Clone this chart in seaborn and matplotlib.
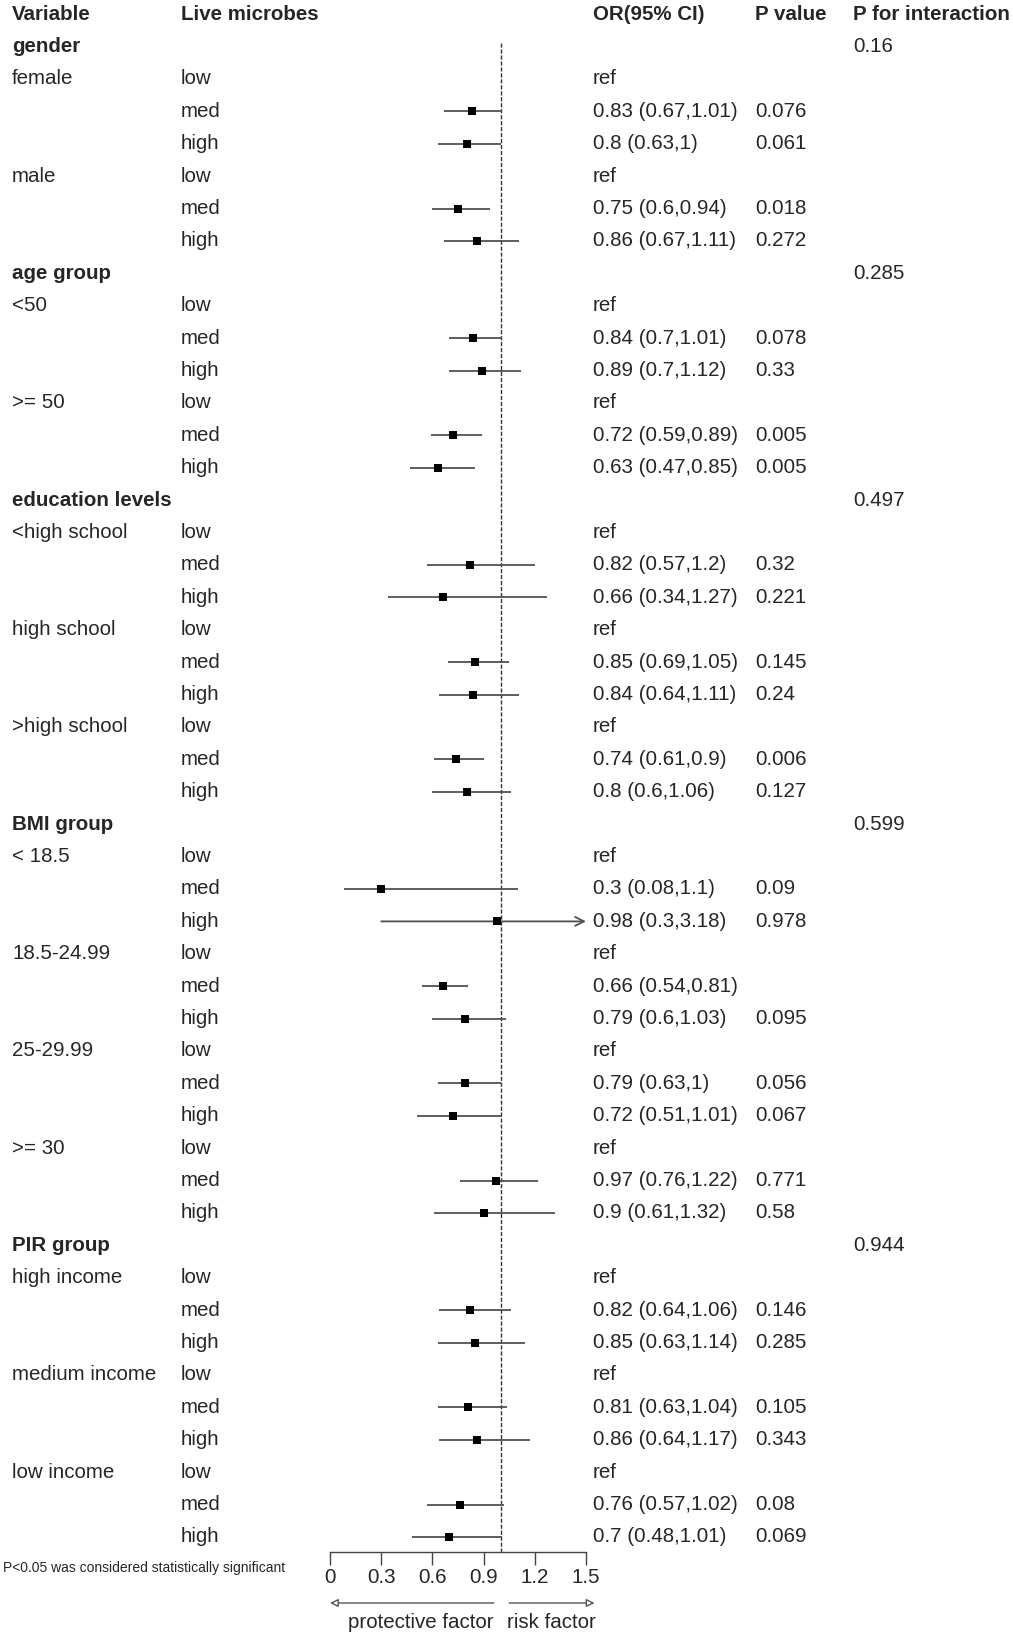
import matplotlib
matplotlib.use("Agg")
import matplotlib.pyplot as plt
import matplotlib.transforms as mtransforms
import numpy as np
import pandas as pd
import seaborn as sns

# table content
group_names = ["gender", "age group", "education levels", "BMI group", "PIR group"]
p_interaction = ["0.16", "0.285", "0.497", "0.599", "0.944"]
subgroups = [
    ["female", "male"],
    ["<50", ">= 50"],
    ["<high school", "high school", ">high school"],
    ["< 18.5", "18.5-24.99", "25-29.99", ">= 30"],
    ["high income", "medium income", "low income"],
]
levels = ["low", "med", "high"]

# med / high estimates, in row order
or_vals = [0.83, 0.8, 0.75, 0.86,
           0.84, 0.89, 0.72, 0.63,
           0.82, 0.66, 0.85, 0.84, 0.74, 0.8,
           0.3, 0.98, 0.66, 0.79, 0.79, 0.72, 0.97, 0.9,
           0.82, 0.85, 0.81, 0.86, 0.76, 0.7]
ci_low = [0.67, 0.63, 0.6, 0.67,
          0.7, 0.7, 0.59, 0.47,
          0.57, 0.34, 0.69, 0.64, 0.61, 0.6,
          0.08, 0.3, 0.54, 0.6, 0.63, 0.51, 0.76, 0.61,
          0.64, 0.63, 0.63, 0.64, 0.57, 0.48]
ci_high = [1.01, 1, 0.94, 1.11,
           1.01, 1.12, 0.89, 0.85,
           1.2, 1.27, 1.05, 1.11, 0.9, 1.06,
           1.1, 3.18, 0.81, 1.03, 1, 1.01, 1.22, 1.32,
           1.06, 1.14, 1.04, 1.17, 1.02, 1.01]
p_vals = ["0.076", "0.061", "0.018", "0.272",
          "0.078", "0.33", "0.005", "0.005",
          "0.32", "0.221", "0.145", "0.24", "0.006", "0.127",
          "0.09", "0.978", "", "0.095", "0.056", "0.067", "0.771", "0.58",
          "0.146", "0.285", "0.105", "0.343", "0.08", "0.069"]

x_ticks = [0, 0.3, 0.6, 0.9, 1.2, 1.5]

sns.set_style("white")
plt.rcParams["font.family"] = ["Liberation Sans", "DejaVu Sans"]
FS = 14.8

# build row table
rows = []
k = 0
r = 1
for g, pint, subs in zip(group_names, p_interaction, subgroups):
    rows.append(dict(row=r, kind="group", label=g, pint=pint))
    r += 1
    for s in subs:
        for j, lev in enumerate(levels):
            d = dict(row=r, kind="level", label=s if j == 0 else "", level=lev)
            if lev != "low":
                d.update(or_=or_vals[k], lo=ci_low[k], hi=ci_high[k], p=p_vals[k])
                k += 1
            rows.append(d)
            r += 1
df = pd.DataFrame(rows)
est = df.dropna(subset=["or_"]).copy()

fig = plt.figure(figsize=(10.13, 16.37), dpi=100)
W, H = 1013, 1637
ax_left, ax_right, ax_bottom = 330, 586, 1552
ax = fig.add_axes([ax_left / W, 1 - ax_bottom / H, (ax_right - ax_left) / W, ax_bottom / H])
xmax = 1.5
row0 = 14.2
row_h = 32.4
y_top = -row0 / row_h
y_bot = (ax_bottom - row0) / row_h
ax.set_xlim(0, xmax)
ax.set_ylim(y_bot, y_top)
ax.patch.set_alpha(0)


def px_row(py):
    return (py - row0) / row_h


# reference line
ax.vlines(1, 0.9, y_bot, colors="#333333", linestyles=(0, (3, 1.3)), lw=1, zorder=1)

# CIs
line_col = "#505050"
inside = est[est["hi"] <= xmax]
ax.hlines(inside["row"], inside["lo"], inside["hi"], colors=line_col, lw=1.3, zorder=2)
for _, e in est[est["hi"] > xmax].iterrows():
    ax.annotate("", xy=(xmax, e["row"]), xytext=(e["lo"], e["row"]),
                arrowprops=dict(arrowstyle="->", color=line_col, lw=1.3,
                                shrinkA=0, shrinkB=0, mutation_scale=16),
                annotation_clip=False)
sns.scatterplot(data=est, x="or_", y="row", marker="s", color="black",
                s=36, linewidth=0, ax=ax, zorder=3, legend=False)

# axis styling
for side in ["top", "left", "right"]:
    ax.spines[side].set_visible(False)
ax.spines["bottom"].set_color("#444444")
ax.spines["bottom"].set_linewidth(1)
ax.set_xticks(x_ticks)
ax.set_xticklabels([f"{t:g}" for t in x_ticks])
ax.set_yticks([])
ax.tick_params(axis="x", direction="out", length=9.5, width=1, color="#444444",
               labelsize=FS, pad=2, bottom=True)
ax.set_xlabel("")
ax.set_ylabel("")

# text columns
tr = mtransforms.blended_transform_factory(fig.transFigure, ax.transData)
col_var, col_lev, col_or, col_p, col_pi = 12 / W, 181 / W, 593 / W, 755 / W, 853 / W
headers = [(col_var, "Variable"), (col_lev, "Live microbes"), (col_or, "OR(95% CI)"),
           (col_p, "P value"), (col_pi, "P for interaction")]
for x, t in headers:
    ax.text(x, 0, t, transform=tr, fontsize=FS, fontweight="bold", va="center", ha="left")

for _, d in df.iterrows():
    y = d["row"]
    if d["kind"] == "group":
        ax.text(col_var, y, d["label"], transform=tr, fontsize=FS, fontweight="bold", va="center")
        ax.text(col_pi, y, d["pint"], transform=tr, fontsize=FS, va="center")
        continue
    if d["label"]:
        ax.text(col_var, y, d["label"], transform=tr, fontsize=FS, va="center")
    ax.text(col_lev, y, d["level"], transform=tr, fontsize=FS, va="center")
    if d["level"] == "low":
        ax.text(col_or, y, "ref", transform=tr, fontsize=FS, va="center")
    else:
        ax.text(col_or, y, f"{d['or_']:g} ({d['lo']:g},{d['hi']:g})", transform=tr,
                fontsize=FS, va="center")
        ax.text(col_p, y, d["p"], transform=tr, fontsize=FS, va="center")

# footnote and direction arrows
ax.text(3 / W, px_row(1568), "P<0.05 was considered statistically significant",
        transform=tr, fontsize=10, va="center")
y_arr = px_row(1603)
y_lab = px_row(1622)
arrow_kw = dict(arrowstyle="-|>", fc="white", ec="#555555", lw=1,
                shrinkA=0, shrinkB=0, mutation_scale=12)
ax.annotate("", xy=(0, y_arr), xytext=(0.96, y_arr), arrowprops=arrow_kw, annotation_clip=False)
ax.annotate("", xy=(1.55, y_arr), xytext=(1.05, y_arr), arrowprops=arrow_kw, annotation_clip=False)
ax.text(0.53, y_lab, "protective factor", fontsize=FS, ha="center", va="center", clip_on=False)
ax.text(1.30, y_lab, "risk factor", fontsize=FS, ha="center", va="center", clip_on=False)

fig.savefig("out.png", dpi=100, facecolor="white")
